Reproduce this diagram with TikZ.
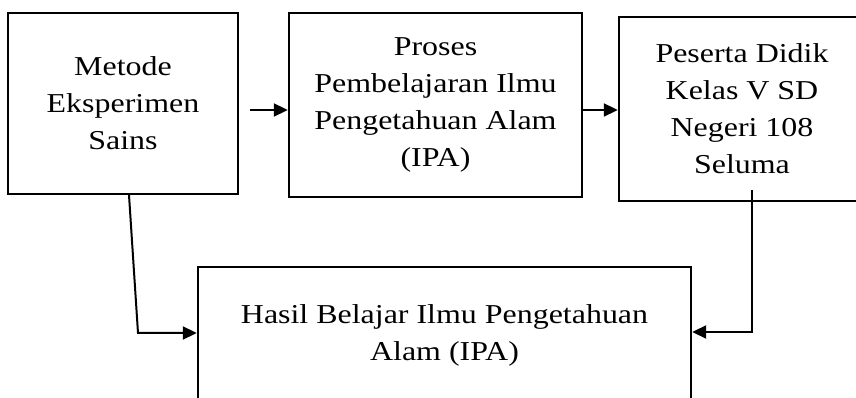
\documentclass[tikz,border=0pt]{standalone}
\usepackage{fontspec}
\setmainfont{Liberation Serif}[FakeStretch=1.17]
\usetikzlibrary{arrows.meta}
\begin{document}
\begin{tikzpicture}[x=1pt,y=1pt,
  box/.style={draw=black,line width=2.4pt,rectangle,inner sep=0pt,align=center,
    font=\fontsize{27.3}{37}\selectfont},
  conn/.style={draw=black,line width=2pt,-{Triangle[length=14pt,width=13pt]}}]
\useasboundingbox (0,0) rectangle (856,398);
\clip (0,0) rectangle (856,398);
\node[box,minimum width=230pt,minimum height=181pt] (b1) at (123,294.5) {Metode\\Eksperimen\\Sains};
\node[box,minimum width=293pt,minimum height=184pt] (b2) at (435.5,293) {Proses\\Pembelajaran Ilmu\\Pengetahuan Alam\\(IPA)};
\node[box,minimum width=246pt,minimum height=184pt] (b3) at (742,289) {Peserta Didik\\Kelas V SD\\Negeri 108\\Seluma};
\node[box,minimum width=493pt,minimum height=137pt] (b4) at (444.5,62.5) {Hasil Belajar Ilmu Pengetahuan\\Alam (IPA)};
\coordinate (s1) at (250,288);
\coordinate (l0) at (129,203);
\coordinate (l1) at (138,65);
\coordinate (r0) at (752,208);
\coordinate (r1) at (752,66);
\draw[conn] (s1) -- (b2.west |- s1);
\draw[conn] (b2.east |- s1) -- (b3.west |- s1);
\draw[conn] (l0) -- (l1) -- (b4.west |- l1);
\draw[conn] (r0) -- (r1) -- (b4.east |- r1);
\end{tikzpicture}
\end{document}
